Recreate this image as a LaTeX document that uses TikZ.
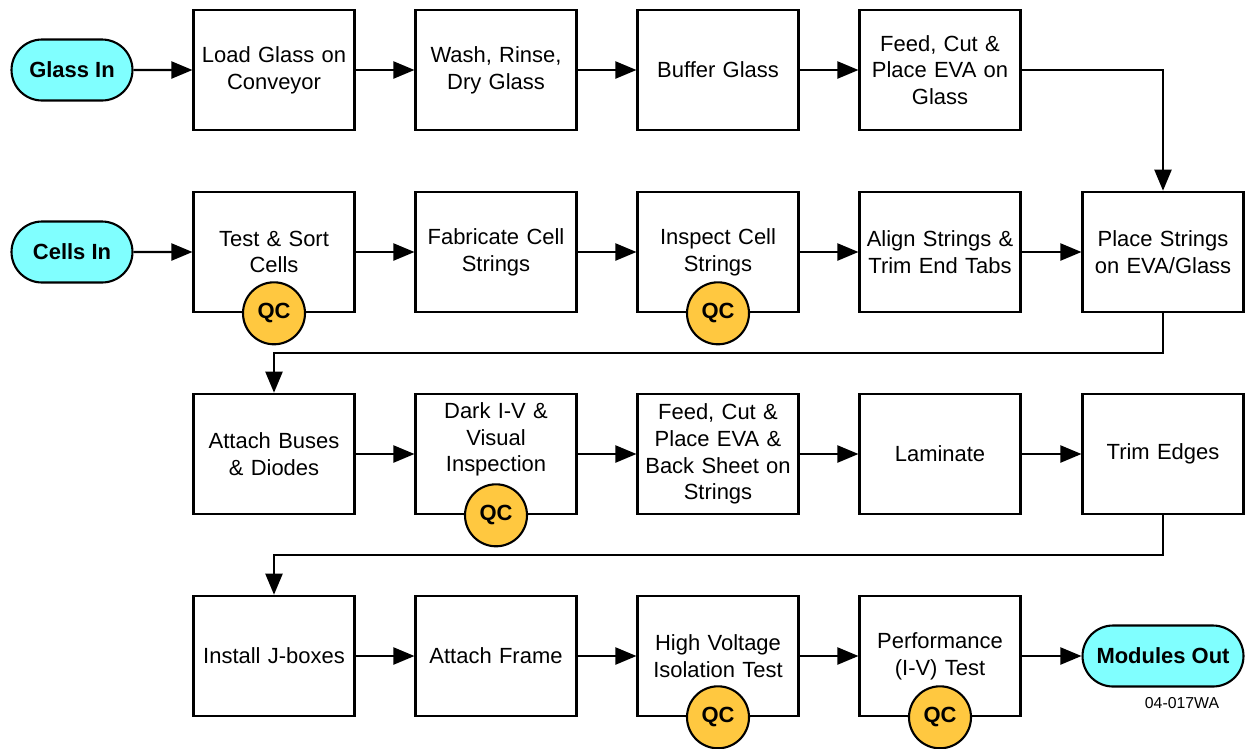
\documentclass[tikz,border=0pt]{standalone}
\usepackage{fontspec}
\setmainfont{Liberation Sans}
\usepackage{xcolor}
\usepackage{tikz}
\usetikzlibrary{shapes.misc, arrows.meta, positioning}

\definecolor{termcyan}{RGB}{128,255,255}
\definecolor{qcgold}{RGB}{255,200,64}

\begin{document}
\begin{tikzpicture}[
    x=0.02cm, y=-0.02cm,
    font=\fontsize{12.5}{15.2}\selectfont,
    stepbox/.style={rectangle, draw=black, line width=1.2pt, fill=white, minimum width=3.22cm, minimum height=2.41cm, text width=3.0cm, align=center, inner sep=0pt},
    terminal/.style={rounded rectangle, draw=black, line width=1.2pt, fill=termcyan, font=\fontsize{12.5}{15.2}\selectfont\bfseries, minimum width=2.42cm, minimum height=1.22cm, inner sep=0pt},
    qc/.style={circle, draw=black, line width=1.2pt, fill=qcgold, font=\fontsize{12.5}{15.2}\selectfont\bfseries, minimum size=1.24cm, inner sep=0pt},
    flow/.style={-{Triangle[length=0.42cm, width=0.34cm]}, line width=1.2pt}
]
\useasboundingbox (0,0) rectangle (1247,748);

% TERMINALS
\node[terminal] (glassin) at (72,70) {Glass In};
\node[terminal] (cellsin) at (72,252) {Cells In};
\node[terminal, minimum width=3.22cm] (modout) at (1163,656) {Modules Out};

% ROW 1
\node[stepbox] (load) at (274,70) {Load Glass on\\Conveyor};
\node[stepbox] (wash) at (496,70) {Wash, Rinse,\\Dry Glass};
\node[stepbox] (buffer) at (718,70) {Buffer Glass};
\node[stepbox] (feedeva) at (940,70) {Feed, Cut \&\\Place EVA on\\Glass};

% ROW 2
\node[stepbox] (sort) at (274,252) {Test \& Sort\\Cells};
\node[stepbox] (fabricate) at (496,252) {Fabricate Cell\\Strings};
\node[stepbox] (inspect) at (718,252) {Inspect Cell\\Strings};
\node[stepbox] (align) at (940,252) {Align Strings \&\\Trim End Tabs};
\node[stepbox] (place) at (1163,252) {Place Strings\\on EVA/Glass};

% ROW 3
\node[stepbox] (buses) at (274,454) {Attach Buses\\\& Diodes};
\node[stepbox, text depth=1.74cm] (darkiv) at (496,454) {Dark I-V \&\\Visual\\Inspection};
\node[stepbox] (backsheet) at (718,454) {Feed, Cut \&\\Place EVA \&\\Back Sheet on\\Strings};
\node[stepbox] (laminate) at (940,454) {Laminate};
\node[stepbox] (trim) at (1163,454) {Trim Edges};

% ROW 4
\node[stepbox] (jbox) at (274,656) {Install J-boxes};
\node[stepbox] (frame) at (496,656) {Attach Frame};
\node[stepbox] (hipot) at (718,656) {High Voltage\\Isolation Test};
\node[stepbox] (perf) at (940,656) {Performance\\(I-V) Test};

% QC MARKS
\node[qc] (qcsort) at (sort.south) {QC};
\node[qc] (qcinspect) at (inspect.south) {QC};
\node[qc] (qcdark) at (darkiv.south) {QC};
\node[qc] (qchipot) at (hipot.south) {QC};
\node[qc] (qcperf) at (perf.south) {QC};

% FLOW
\draw[flow] (glassin) -- (load);
\draw[flow] (load) -- (wash);
\draw[flow] (wash) -- (buffer);
\draw[flow] (buffer) -- (feedeva);
\draw[flow] (feedeva.east) -| (place.north);
\draw[flow] (cellsin) -- (sort);
\draw[flow] (sort) -- (fabricate);
\draw[flow] (fabricate) -- (inspect);
\draw[flow] (inspect) -- (align);
\draw[flow] (align) -- (place);
\draw[flow] (place.south) -- ++(0,40) -| (buses.north);
\draw[flow] (buses) -- (darkiv);
\draw[flow] (darkiv) -- (backsheet);
\draw[flow] (backsheet) -- (laminate);
\draw[flow] (laminate) -- (trim);
\draw[flow] (trim.south) -- ++(0,40) -| (jbox.north);
\draw[flow] (jbox) -- (frame);
\draw[flow] (frame) -- (hipot);
\draw[flow] (hipot) -- (perf);
\draw[flow] (perf) -- (modout);

\node[font=\fontsize{9}{11}\selectfont] (drawno) at (1182,703) {04-017WA};
\end{tikzpicture}
\end{document}
